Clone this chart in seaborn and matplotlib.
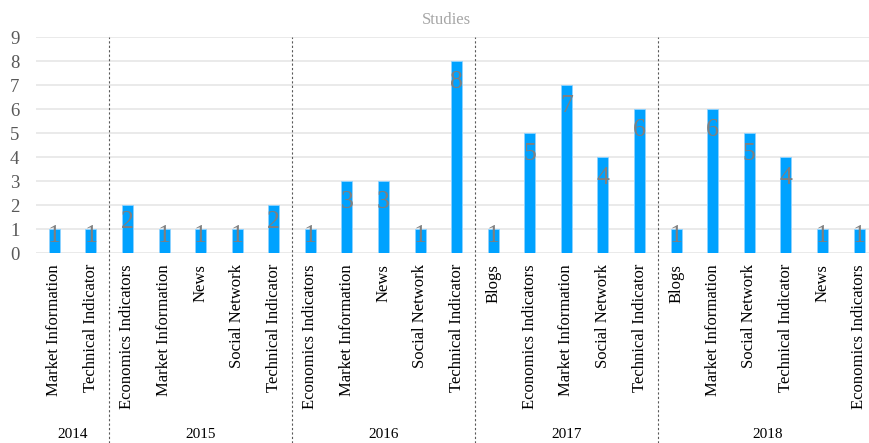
import matplotlib
matplotlib.use("Agg")
import matplotlib.pyplot as plt
import seaborn as sns
import pandas as pd

# Study counts per data source, grouped by publication year
years = ["2014", "2015", "2016", "2017", "2018"]
sources_2014 = ["Market Information", "Technical Indicator"]
counts_2014 = [1, 1]
sources_2015 = ["Economics Indicators", "Market Information", "News", "Social Network", "Technical Indicator"]
counts_2015 = [2, 1, 1, 1, 2]
sources_2016 = ["Economics Indicators", "Market Information", "News", "Social Network", "Technical Indicator"]
counts_2016 = [1, 3, 3, 1, 8]
sources_2017 = ["Blogs", "Economics Indicators", "Market Information", "Social Network", "Technical Indicator"]
counts_2017 = [1, 5, 7, 4, 6]
sources_2018 = ["Blogs", "Market Information", "Social Network", "Technical Indicator", "News", "Economics Indicators"]
counts_2018 = [1, 6, 5, 4, 1, 1]

groups = [
    (years[0], sources_2014, counts_2014),
    (years[1], sources_2015, counts_2015),
    (years[2], sources_2016, counts_2016),
    (years[3], sources_2017, counts_2017),
    (years[4], sources_2018, counts_2018),
]

rows = []
for year, srcs, cnts in groups:
    for s, c in zip(srcs, cnts):
        rows.append({"year": year, "source": s, "count": c})
df = pd.DataFrame(rows)
df["pos"] = range(len(df))

sns.set_theme(style="white")
plt.rcParams["font.family"] = ["Liberation Serif", "DejaVu Serif"]

fig = plt.figure(figsize=(8.7, 4.43), dpi=100)
ax = fig.add_axes([36 / 870, 190 / 443, 834 / 870, 216 / 443])

bar_color = "#00A2FF"
sns.barplot(data=df, x="pos", y="count", color=bar_color, width=0.3,
            saturation=1, edgecolor="#8FD3FF", linewidth=0.6, ax=ax, zorder=3)

ax.set_ylim(0, 9)
ax.set_xlim(-0.5, len(df) - 0.7)
ax.set_yticks(range(0, 10))
ax.yaxis.grid(True, color="#E6E6E6", linewidth=1.2, zorder=0)
ax.xaxis.grid(False)
for sp in ax.spines.values():
    sp.set_visible(False)

ax.tick_params(axis="y", length=0, pad=12, labelsize=13.5, labelcolor="#595959")
ax.set_xticks(df["pos"])
ax.set_xticklabels(df["source"], rotation=90, fontsize=12, color="#000000",
                   va="top", ha="center")
ax.tick_params(axis="x", length=0, pad=8)
ax.set_xlabel("")
ax.set_ylabel("")

# Value labels inside the bars, near the top
for p, c in zip(df["pos"], df["count"]):
    y = max(c - 0.87, 0.6 * c + 0.1)
    ax.text(p, y, str(c), ha="center", va="center", fontsize=18.5,
            color="#7F7F7F", zorder=4)

# Year labels in the bottom band, centred under each group
start = 0
for year, srcs, cnts in groups:
    end = start + len(srcs) - 1
    center = (start + end) / 2
    xf = fig.transFigure.inverted().transform(ax.transData.transform((center, 0)))[0]
    fig.text(xf, 1 - 434 / 443, year, ha="center", va="center",
             fontsize=11, color="#000000")
    start = end + 1

# Dashed separators between years
start = 0
for year, srcs, cnts in groups[:-1]:
    start += len(srcs)
    ax.axvline(start - 0.5, ymin=-0.88, ymax=1.0, color="#595959",
               linestyle=(0, (2, 2)), linewidth=0.8, clip_on=False, zorder=1)

fig.text(446 / 870, 1 - 20 / 443, "Studies", ha="center", va="center",
         fontsize=12, color="#A6A6A6")

fig.savefig("out.png", dpi=100)
